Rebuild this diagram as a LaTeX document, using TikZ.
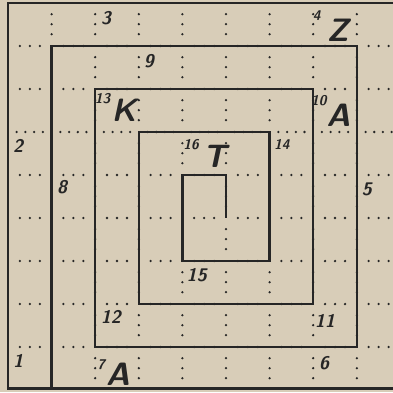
\documentclass[tikz,border=0pt]{standalone}
\usepackage{tikz}
\definecolor{paper}{HTML}{D8CDB8}
\colorlet{ink}{black!85}
\tikzset{maze/dots/.style={ink, line width=1.8pt, line cap=round}}
\tikzset{maze/across/.style={maze/dots, dash pattern=on 0pt off 0.25cm on 0pt off 0.25cm on 0pt off 0.59cm, dash phase=0.795cm}}
\tikzset{maze/across4/.style={maze/dots, dash pattern=on 0pt off 0.218cm on 0pt off 0.218cm on 0pt off 0.218cm on 0pt off 0.436cm, dash phase=0.872cm}}
\tikzset{maze/down/.style={maze/dots, dash pattern=on 0pt off 0.25cm on 0pt off 0.25cm on 0pt off 0.575cm, dash phase=0.795cm}}
\tikzset{maze/wall/.style={ink, line width=1.8pt, line join=miter}}
\tikzset{maze/num/.style={ink, inner sep=0pt, font=\sffamily\itshape\bfseries\fontsize{13}{13}\selectfont}}
\tikzset{maze/tiny/.style={ink, inner sep=0pt, font=\sffamily\itshape\bfseries\fontsize{10}{10}\selectfont}}
\tikzset{maze/big/.style={ink, inner sep=0pt, font=\sffamily\itshape\bfseries\fontsize{23}{23}\selectfont}}

\begin{document}
\begin{tikzpicture}[x=1.09cm, y=-1.075cm]
  \fill[paper] (-0.1835,-0.0698) rectangle (8.830,9.047);
  \useasboundingbox (-0.1835,-0.0698) rectangle (8.830,9.047);
  % dotted grid
  \draw[maze/across] (0,1) -- (8.83,1);
  \draw[maze/across] (0,2) -- (8.83,2);
  \draw[maze/across4] (0,3) -- (8.83,3);
  \draw[maze/across] (0,4) -- (8.83,4);
  \draw[maze/across] (0,5) -- (8.83,5);
  \draw[maze/across] (0,6) -- (8.83,6);
  \draw[maze/across] (0,7) -- (8.83,7);
  \draw[maze/across] (0,8) -- (8.83,8);
  \draw[maze/down] (1,0) -- (1,9);
  \draw[maze/down] (2,0) -- (2,9);
  \draw[maze/down] (3,0) -- (3,9);
  \draw[maze/down] (4,0) -- (4,9);
  \draw[maze/down] (5,0) -- (5,9);
  \draw[maze/down] (6,0) -- (6,9);
  \draw[maze/down] (7,0) -- (7,9);
  \draw[maze/down] (8,0) -- (8,9);
  % border and spiral
  \draw[maze/wall] (8.9,0) -- (0,0) -- (0,8.96) -- (8.9,8.96);
  \draw[maze/wall] (1,8.96) -- (1,1) -- (8,1) -- (8,8) -- (2,8) -- (2,2) -- (7,2) -- (7,7)
    -- (3,7) -- (3,3) -- (6,3) -- (6,6) -- (4,6) -- (4,4) -- (5,4) -- (5,5);
  % cell numbers
  \node[maze/num] (n1) at (0.23,8.33) {1};
  \node[maze/num] (n2) at (0.23,3.33) {2};
  \node[maze/num] (n3) at (2.25,0.35) {3};
  \node[maze/tiny] (n4) at (7.08,0.30) {4};
  \node[maze/num] (n5) at (8.23,4.33) {5};
  \node[maze/num] (n6) at (7.25,8.37) {6};
  \node[maze/tiny] (n7) at (2.14,8.42) {7};
  \node[maze/num] (n8) at (1.24,4.28) {8};
  \node[maze/num] (n9) at (3.23,1.35) {9};
  \node[maze/tiny] (n10) at (7.13,2.26) {10};
  \node[maze/num] (n11) at (7.27,7.40) {11};
  \node[maze/num] (n12) at (2.36,7.30) {12};
  \node[maze/tiny] (n13) at (2.17,2.23) {13};
  \node[maze/tiny] (n14) at (6.28,3.30) {14};
  \node[maze/num] (n15) at (4.33,6.33) {15};
  \node[maze/tiny] (n16) at (4.20,3.30) {16};
  % letters
  \node[maze/big] (lz) at (7.56,0.64) {Z};
  \node[maze/big] (la) at (7.58,2.60) {A};
  \node[maze/big] (lk) at (2.66,2.50) {K};
  \node[maze/big] (lt) at (4.74,3.56) {T};
  \node[maze/big] (lb) at (2.52,8.64) {A};
\end{tikzpicture}
\end{document}
